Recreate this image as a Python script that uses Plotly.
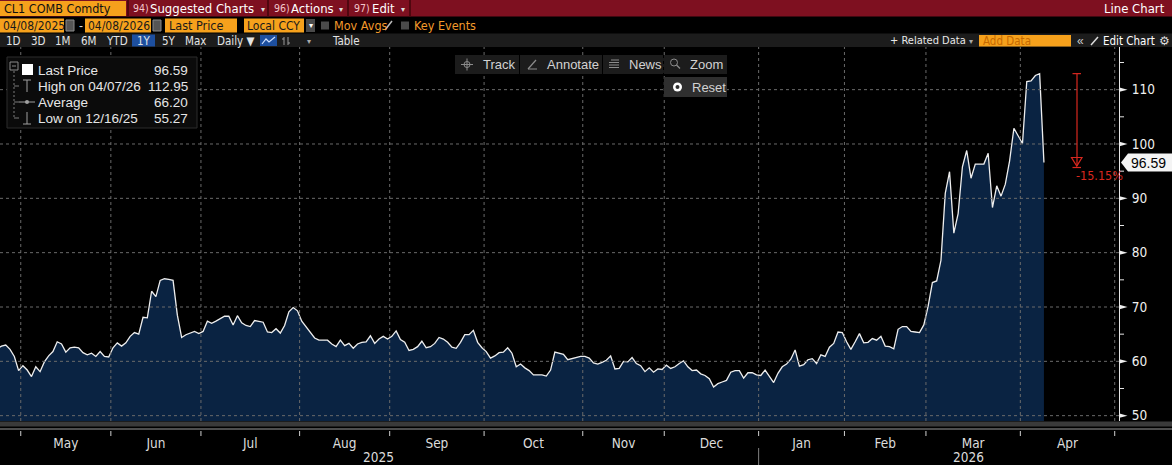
import pandas as pd
import plotly.graph_objects as go

# ---------------- data ----------------
holidays = ["2025-05-26", "2025-11-27", "2025-12-25", "2026-01-01", "2026-01-19", "2026-02-16"]

last_price = [
    # Apr 2025 (23..30)
    62.3, 62.8, 63.0, 62.2, 60.9, 58.3,
    # May
    59.2, 58.4, 57.2, 59.0, 58.1, 59.9, 61.0, 61.8, 63.6, 63.2, 61.7, 62.5, 62.6, 62.5, 61.6,
    61.2, 61.5, 60.9, 61.8, 60.9, 60.8,
    # Jun
    62.5, 63.4, 62.8, 63.4, 64.6, 65.3, 65.0, 68.1, 68.0, 72.9, 71.9, 74.9, 75.2, 75.1, 74.9,
    68.5, 64.4, 64.9, 65.2, 65.5, 65.1,
    # Jul
    65.5, 67.4, 67.0, 67.4, 67.9, 68.3, 68.3, 66.7, 68.4, 67.1, 66.6, 66.4, 67.5, 67.3, 67.2,
    65.4, 65.3, 66.0, 65.2, 66.6, 69.1, 69.9, 69.3,
    # Aug
    67.4, 66.3, 65.2, 64.3, 63.9, 63.9, 63.9, 63.2, 62.7, 63.9, 62.9, 63.3, 62.4, 63.2, 63.5,
    63.6, 64.7, 63.3, 64.1, 64.6, 64.1,
    # Sep
    64.6, 65.6, 64.0, 63.5, 62.0, 62.2, 62.7, 63.7, 62.5, 62.7, 63.3, 64.4, 64.1, 63.5, 62.6,
    62.4, 63.5, 64.9, 64.9, 65.7, 63.5, 62.5,
    # Oct
    61.8, 60.6, 61.0, 61.6, 61.7, 62.5, 61.5, 59.0, 59.5, 58.8, 58.3, 57.5, 57.5, 57.5, 57.3,
    58.4, 61.7, 61.5, 61.3, 60.3, 60.5, 60.6, 60.9,
    # Nov
    60.9, 60.6, 59.7, 59.5, 59.8, 60.2, 61.0, 58.6, 58.7, 60.0, 59.9, 60.7, 59.6, 59.2, 58.1,
    58.8, 58.0, 58.6, 58.5,
    # Dec
    59.3, 58.7, 59.0, 59.6, 60.1, 59.0, 58.3, 58.4, 57.7, 57.4, 56.8, 55.27, 55.9, 56.2, 56.5,
    58.0, 58.3, 58.3, 56.9, 57.9, 57.9, 57.5,
    # Jan 2026
    57.4, 58.4, 57.2, 56.1, 57.8, 59.0, 59.5, 60.4, 62.1, 59.1, 59.4, 60.3, 60.5, 59.6, 61.2,
    60.9, 62.6, 63.3, 65.4, 65.3,
    # Feb
    63.6, 62.2, 63.6, 65.1, 63.4, 63.5, 64.2, 63.9, 64.6, 62.8, 62.7, 62.3, 65.9, 66.4, 66.4,
    65.5, 65.4, 65.3, 66.7,
    # Mar
    70.1, 74.5, 74.8, 78.6, 90.9, 94.9, 83.6, 87.2, 95.8, 98.8, 93.7, 96.3, 96.3, 96.3, 98.3,
    88.3, 92.3, 90.4, 92.6, 96.9, 102.9, 101.4,
    # Apr (1..8)
    100.1, 111.5, 111.6, 112.6, 112.95, 96.59,
]

y_ticks = [50, 60, 70, 80, 90, 100, 110]
y_minor = [55, 65, 75, 85, 95, 105, 115]
month_labels = ["May", "Jun", "Jul", "Aug", "Sep", "Oct", "Nov", "Dec", "Jan", "Feb", "Mar", "Apr"]
year_labels = ["2025", "2026"]
legend_labels = ["Last Price", "High on 04/07/26", "Average", "Low on 12/16/25"]
legend_values = ["96.59", "112.95", "66.20", "55.27"]
high_value = 112.95
last_value = 96.59
change_label = "-15.15%"

# ---------------- calendar helpers ----------------
dates = [d for d in pd.bdate_range("2025-04-23", "2026-04-08") if d.strftime("%Y-%m-%d") not in holidays]
assert len(dates) == len(last_price), (len(dates), len(last_price))
x_vals = [d + pd.Timedelta(hours=12) for d in dates]

cal = [d for d in pd.bdate_range("2025-05-01", "2026-05-29") if d.strftime("%Y-%m-%d") not in holidays]
months = {}
for d in cal:
    months.setdefault((d.year, d.month), []).append(d)
keys = sorted(months)
month_starts = [months[k][0] for k in keys]
tick_mid = []
for k in keys[:12]:
    ds = months[k]
    n = len(ds)
    tick_mid.append(ds[n // 2] if n % 2 == 0 else ds[n // 2] + pd.Timedelta(hours=12))

# ---------------- geometry ----------------
W, H = 1172, 465
ML, MR, MT, MB = 0, 53, 47, 44
PW = W - ML - MR
PH = H - MT - MB
Y_RANGE = [49.02, 117.85]

NARROW = "DejaVu Sans Condensed, Liberation Sans, Arial, sans-serif"
REG = "Liberation Sans, Arial, sans-serif"
ORANGE = "#f6a11c"
GRID = "#6a6a6a"
RED = "#d9281f"


def px(X):
    return (X - ML) / PW


def py(Y):
    return (H - MB - Y) / PH


def vy(Y):
    return Y_RANGE[1] - (Y - MT) / PH * (Y_RANGE[1] - Y_RANGE[0])


shapes = []
annos = []


def rect(x0, y0, x1, y1, fill, line=None):
    shapes.append(dict(type="rect", xref="paper", yref="paper", x0=px(x0), x1=px(x1),
                       y0=py(y1), y1=py(y0), fillcolor=fill,
                       line=dict(width=1 if line else 0, color=line or fill), layer="above"))


def seg(x0, y0, x1, y1, color, width=1, dash=None):
    ln = dict(color=color, width=width)
    if dash:
        ln["dash"] = dash
    shapes.append(dict(type="line", xref="paper", yref="paper", x0=px(x0), x1=px(x1),
                       y0=py(y0), y1=py(y1), line=ln, layer="above"))


def circle(cx, cy, r, fill, line=None):
    shapes.append(dict(type="circle", xref="paper", yref="paper", x0=px(cx - r), x1=px(cx + r),
                       y0=py(cy + r), y1=py(cy - r), fillcolor=fill,
                       line=dict(width=1 if line else 0, color=line or fill), layer="above"))


def text(X, Y, s, color, size, family=REG, anchor="left"):
    annos.append(dict(x=px(X), y=py(Y), xref="paper", yref="paper", text=s, showarrow=False,
                      xanchor=anchor, yanchor="middle", borderpad=0,
                      font=dict(color=color, size=size, family=family)))


# ---------------- gridlines (above fill) ----------------
for ms in month_starts:
    shapes.append(dict(type="line", xref="x", yref="paper", x0=ms, x1=ms, y0=0, y1=1,
                       line=dict(color=GRID, width=1, dash="3px,3px"), layer="above"))
for v in y_ticks:
    shapes.append(dict(type="line", xref="paper", yref="y", x0=0, x1=1, y0=v, y1=v,
                       line=dict(color=GRID, width=1, dash="3px,3px"), layer="above"))

# ---------------- right axis decorations ----------------
tri_h = 2.2 * (Y_RANGE[1] - Y_RANGE[0]) / PH
for v in y_ticks:
    shapes.append(dict(type="path", xref="paper", yref="y",
                       path=f"M {px(1119.5)},{v + tri_h} L {px(1127.5)},{v} L {px(1119.5)},{v - tri_h} Z",
                       fillcolor="#f0f0f0", line=dict(width=0), layer="above"))
for v in y_minor:
    shapes.append(dict(type="line", xref="paper", yref="y", x0=px(1119.5), x1=px(1124), y0=v, y1=v,
                       line=dict(color="#e6e6e6", width=1), layer="above"))

# last price tag
hh = 9 * (Y_RANGE[1] - Y_RANGE[0]) / PH
shapes.append(dict(type="path", xref="paper", yref="y",
                   path=(f"M {px(1121)},{last_value} L {px(1128)},{last_value + hh} L {px(1172)},{last_value + hh} "
                         f"L {px(1172)},{last_value - hh} L {px(1128)},{last_value - hh} Z"),
                   fillcolor="#f4f4f4", line=dict(width=0), layer="above"))
annos.append(dict(x=px(1129), y=last_value, xref="paper", yref="y", text=f"{last_value:.2f}", showarrow=False,
                  xanchor="left", yanchor="middle", font=dict(color="#000", size=14, family=REG)))

# red drawdown marker
RX = 1077
lo_y = vy(166)
shapes.append(dict(type="line", xref="paper", yref="y", x0=px(RX), x1=px(RX), y0=high_value, y1=lo_y,
                   line=dict(color=RED, width=1.2), layer="above"))
shapes.append(dict(type="line", xref="paper", yref="y", x0=px(1072.5), x1=px(1081), y0=high_value, y1=high_value,
                   line=dict(color=RED, width=1.2), layer="above"))
shapes.append(dict(type="path", xref="paper", yref="y",
                   path=f"M {px(1071.5)},{vy(157.5)} L {px(1082)},{vy(157.5)} L {px(1076.8)},{vy(166)} Z",
                   line=dict(color=RED, width=1.2), layer="above"))
shapes.append(dict(type="line", xref="paper", yref="y", x0=px(1072.5), x1=px(1081), y0=vy(167.5), y1=vy(167.5),
                   line=dict(color=RED, width=1.2), layer="above"))
text(1075, 175, change_label, RED, 12.5, NARROW)

# ---------------- legend box ----------------
rect(7, 57, 197, 128, "#0b0b0b", "#2c2c2c")
rows_y = [70, 86, 102, 118]
seg(14, 71, 14, 118, "#7a7a7a", 1, "2px,2px")
for ry in rows_y[1:]:
    seg(14, ry, 19, ry, "#7a7a7a", 1)
rect(10, 62, 18, 70, "#0b0b0b", "#8a8a8a")
seg(12, 66, 16, 66, "#8a8a8a", 1)
rect(22, 64, 33, 75, "#ffffff")
seg(27, 80, 27, 92, "#a0a0a0", 1)
seg(23, 80, 31, 80, "#a0a0a0", 1)
seg(19, 102, 35, 102, "#a0a0a0", 1)
circle(27, 102, 2, "#a0a0a0")
seg(27, 112, 27, 124, "#a0a0a0", 1)
seg(23, 124, 31, 124, "#a0a0a0", 1)
for ry, lab, val in zip(rows_y, legend_labels, legend_values):
    text(37, ry, lab, "#e6e6e6", 13.5, REG)
    text(189, ry, val, "#e6e6e6", 13.5, REG, anchor="right")

# ---------------- chart toolbar ----------------
for x0, x1 in [(455, 519), (520, 602), (603, 663), (664, 727)]:
    rect(x0, 55, x1, 74, "#1c1c1c")
rect(664, 77, 727, 97, "#2f2f2f")
TB = "#d2d2d2"
IC = "#8c8c8c"
circle(467, 64.5, 3, "rgba(0,0,0,0)", IC)
seg(461, 64.5, 473, 64.5, IC)
seg(467, 58.5, 467, 70.5, IC)
text(482, 64.5, "Track", TB, 13)
seg(528, 69, 536, 60, IC, 1.2)
seg(528, 69, 537, 69, IC, 1)
text(546, 64.5, "Annotate", TB, 13)
for yy, xa in [(60, 611), (62.5, 609), (65, 609), (67.5, 609)]:
    seg(xa, yy, 619, yy, IC, 1)
text(628, 64.5, "News", TB, 13)
circle(674, 62.5, 3.5, "rgba(0,0,0,0)", IC)
seg(676.5, 65, 680, 68.5, IC, 1.2)
text(689, 64.5, "Zoom", TB, 13)
circle(677.5, 87, 4.5, "#ffffff")
circle(677.5, 87, 2, "#2f2f2f")
text(691, 87, "Reset", TB, 13)

# ---------------- top bars ----------------
rect(0, 0, 1172, 16.5, "#7e1020")
rect(0, 1, 126, 16, ORANGE)
text(3, 8.5, "CL1 COMB Comdty", "#111111", 12.5, NARROW)
for sx in (128, 268, 348, 410):
    seg(sx, 0, sx, 16.5, "#50070f", 2)
text(132, 8.5, "94)", "#f3c6cb", 10.5, NARROW)
text(149, 8.5, "Suggested Charts", "#ffffff", 13, NARROW)
text(260, 9, "▾", "#dddddd", 8)
text(273, 8.5, "96)", "#f3c6cb", 10.5, NARROW)
text(290, 8.5, "Actions", "#ffffff", 13, NARROW)
text(338, 9, "▾", "#dddddd", 8)
text(353, 8.5, "97)", "#f3c6cb", 10.5, NARROW)
text(371, 8.5, "Edit", "#ffffff", 13, NARROW)
text(400, 9, "▾", "#dddddd", 8)
text(1166, 8.5, "Line Chart", "#ffffff", 13, NARROW, anchor="right")

BOXT = "#1a1a1a"
rect(0, 18.5, 64, 32.5, ORANGE)
text(2, 25.5, "04/08/2025", BOXT, 12, NARROW)
rect(66, 20, 74, 31, "#555555", "#8a8a8a")
text(78, 25.5, "-", "#dddddd", 12)
rect(85, 18.5, 151, 32.5, ORANGE)
text(87, 25.5, "04/08/2026", BOXT, 12, NARROW)
rect(153, 20, 161, 31, "#555555", "#8a8a8a")
rect(165, 18.5, 237, 32.5, ORANGE)
text(168, 25.5, "Last Price", BOXT, 12.5, NARROW)
rect(244, 18.5, 304, 32.5, ORANGE)
text(246, 25.5, "Local CCY", BOXT, 12, NARROW)
rect(306, 19, 315, 32, "#4a4a4a")
text(310.5, 25.5, "▾", "#ffffff", 8, anchor="center")
rect(321, 21.5, 329, 29.5, "#4a4a4a")
text(333, 25.5, "Mov Avgs", "#f39a2b", 12.5, NARROW)
seg(385, 30, 392, 21, "#bbbbbb", 1.5)
rect(401, 21.5, 409, 29.5, "#4a4a4a")
text(413, 25.5, "Key Events", "#f39a2b", 12.5, NARROW)

rect(0, 33.5, 1172, 47, "#1c1c1c")
rect(132, 34.5, 155, 46.5, "#1d4f9f")
for cx, lab in [(13.5, "1D"), (38, "3D"), (63, "1M"), (88.5, "6M"), (116.5, "YTD"), (143.5, "1Y"),
                (168.5, "5Y"), (196, "Max")]:
    text(cx, 41, lab, "#e4e4e4", 11.5, NARROW, anchor="center")
text(216, 41, "Daily ▼", "#e4e4e4", 11.5, NARROW)
rect(260, 35, 277, 46, "#1d4f9f")
shapes.append(dict(type="path", xref="paper", yref="paper",
                   path=f"M {px(262)},{py(44)} L {px(266)},{py(39)} L {px(269)},{py(42)} L {px(275)},{py(37)}",
                   line=dict(color="#cfe0ff", width=1.2), layer="above"))
seg(284, 37, 284, 45, "#9a9a9a", 1)
seg(288, 37, 288, 45, "#9a9a9a", 1)
seg(282, 39, 284, 39, "#9a9a9a", 1)
seg(288, 43, 290, 43, "#9a9a9a", 1)
text(309, 41.5, "▾", "#aaaaaa", 8, anchor="center")
text(331, 41, "Table", "#e4e4e4", 11.5, NARROW)
text(889, 41, "+ Related Data", "#e8e8e8", 11, NARROW)
text(971, 41.5, "▾", "#aaaaaa", 8, anchor="center")
rect(979, 35, 1071, 46.5, ORANGE)
text(982, 41, "Add Data", "#c66a00", 11.5, NARROW)
text(1076, 41, "«", "#cccccc", 12)
seg(1091, 45, 1098, 37, "#dddddd", 1.5)
text(1102, 41, "Edit Chart", "#ffffff", 11.5, NARROW)
text(1164, 41, "⚙", "#dddddd", 12, anchor="center")

# ---------------- bottom navigator & axis extras ----------------
rect(0, 421.5, 1172, 426.5, "#3a3a3a")
seg(0, 429, 1172, 429, "#9a9a9a", 1)
for ms in month_starts:
    shapes.append(dict(type="line", xref="x", yref="paper", x0=ms, x1=ms, y0=py(431), y1=py(436),
                       line=dict(color="#d0d0d0", width=1), layer="above"))
jan_start = months[(2026, 1)][0]
shapes.append(dict(type="line", xref="x", yref="paper", x0=jan_start, x1=jan_start, y0=py(448), y1=py(465),
                   line=dict(color="#808080", width=1), layer="above"))
text(378, 457, year_labels[0], "#dcdcdc", 13.5, NARROW, anchor="center")
text(968, 457, year_labels[1], "#dcdcdc", 13.5, NARROW, anchor="center")

# ---------------- figure ----------------
fig = go.Figure(go.Scatter(x=x_vals, y=last_price, mode="lines",
                           line=dict(color="#eeeeee", width=1.3),
                           fill="tozeroy", fillcolor="#0a2342", hoverinfo="skip"))

fig.update_layout(
    width=W, height=H, margin=dict(l=ML, r=MR, t=MT, b=MB, pad=0),
    paper_bgcolor="#000000", plot_bgcolor="#000000", showlegend=False, hovermode=False,
    xaxis=dict(type="date", range=["2025-04-24 03:50", "2026-05-01 23:59"],
               rangebreaks=[dict(bounds=["sat", "mon"]), dict(values=holidays, dvalue=86400000)],
               tickmode="array", tickvals=tick_mid, ticktext=month_labels, ticks="",
               showgrid=False, zeroline=False, showline=False, automargin=False,
               ticklabelstandoff=12, tickfont=dict(color="#dcdcdc", size=13.5, family=NARROW)),
    yaxis=dict(side="right", range=Y_RANGE, tickmode="array", tickvals=y_ticks, ticks="",
               showgrid=False, zeroline=False, showline=True, linecolor="#e6e6e6", linewidth=1,
               automargin=False, ticklabelstandoff=9,
               tickfont=dict(color="#f0f0f0", size=13.5, family=NARROW)),
    shapes=shapes, annotations=annos,
)

fig.write_html("out.html", config={"displayModeBar": False})
